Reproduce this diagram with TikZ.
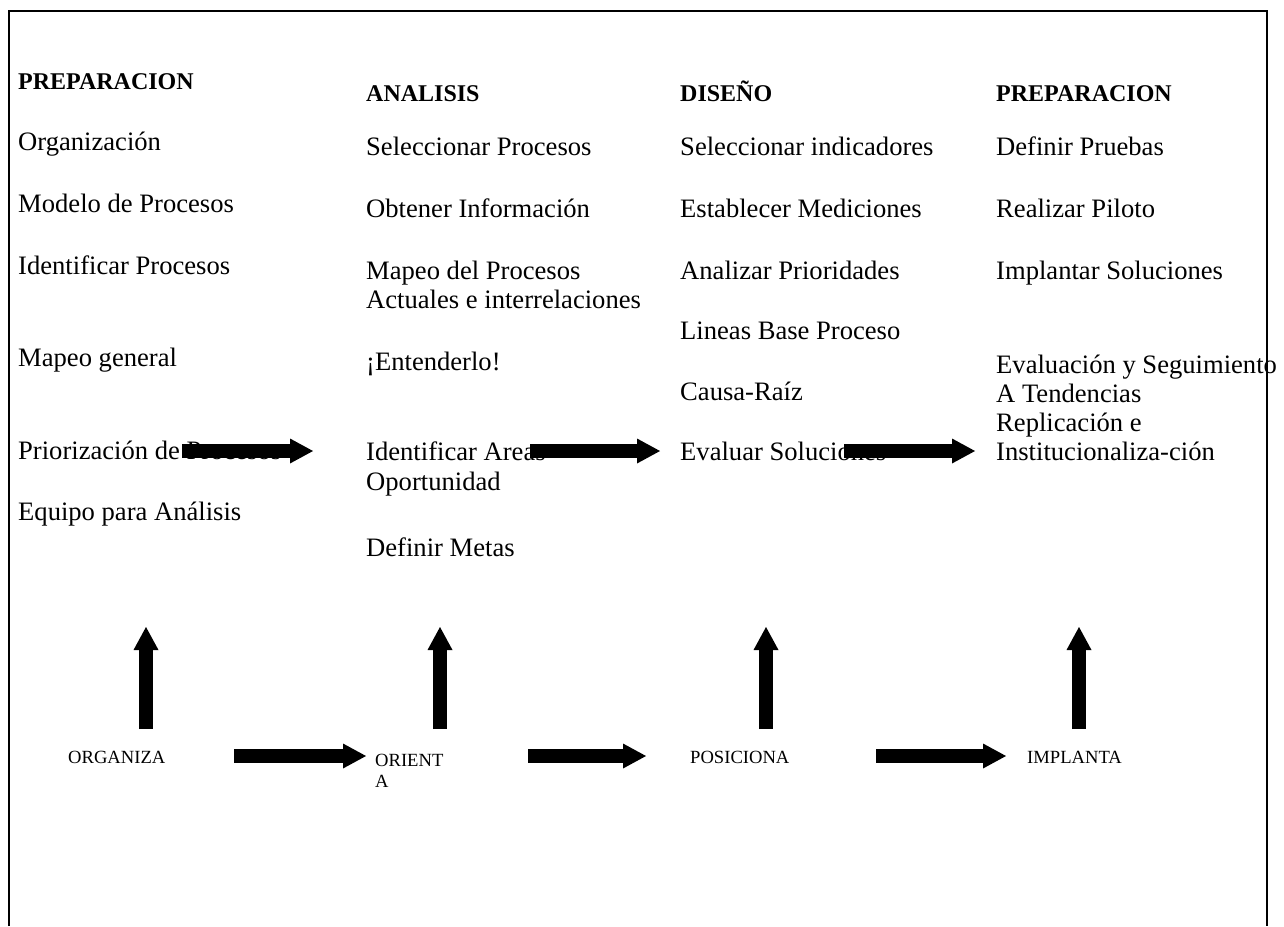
\documentclass[tikz,border=0pt]{standalone}
\usepackage{fontspec}
\setmainfont{Liberation Serif}
\usetikzlibrary{arrows.meta}
\begin{document}
\begin{tikzpicture}[x=1pt,y=-1pt,
  item/.style={anchor=base west,inner sep=0pt,font=\fontsize{26.6}{30}\selectfont},
  head/.style={anchor=base west,inner sep=0pt,font=\fontsize{24}{28}\selectfont\bfseries},
  phase/.style={anchor=base west,inner sep=0pt,font=\fontsize{18.6}{22}\selectfont},
  bigarrow/.style={line width=14pt,-{Triangle[length=23pt,width=25pt,line width=0pt]}},
  frame/.style={line width=2.6pt}]
\useasboundingbox (0,0) rectangle (1284,926);
% open frame
\draw[frame] (9,926) -- (9,11) -- (1267,11) -- (1267,926);

% column 1
\node[head] (p1) at (18,89) {PREPARACION};
\node[item] (p1a) at (18,150) {Organización};
\node[item] (p1b) at (18,212) {Modelo de Procesos};
\node[item] (p1c) at (18,274) {Identificar Procesos};
\node[item] (p1d) at (18,366) {Mapeo general};
\node[item] (p1e) at (18,459) {Priorización de Procesos};
\node[item] (p1f) at (18,520) {Equipo para Análisis};

% column 2
\node[head] (an) at (366,101) {ANALISIS};
\node[item] (ana) at (366,155) {Seleccionar Procesos};
\node[item] (anb) at (366,217) {Obtener Información};
\node[item] (anc) at (366,279) {Mapeo del Procesos};
\node[item] (anc2) at (366,308) {Actuales e interrelaciones};
\node[item] (and) at (366,370) {¡Entenderlo!};
\node[item] (ane) at (366,460) {Identificar Areas};
\node[item] (ane2) at (366,490) {Oportunidad};
\node[item] (anf) at (366,556) {Definir Metas};

% column 3
\node[head] (di) at (680,101) {DISEÑO};
\node[item] (dia) at (680,155) {Seleccionar indicadores};
\node[item] (dib) at (680,217) {Establecer Mediciones};
\node[item] (dic) at (680,279) {Analizar Prioridades};
\node[item] (did) at (680,339) {Lineas Base Proceso};
\node[item] (die) at (680,400) {Causa-Raíz};
\node[item] (dif) at (680,460) {Evaluar Soluciones};

% column 4
\node[head] (p4) at (996,101) {PREPARACION};
\node[item] (p4a) at (996,155) {Definir Pruebas};
\node[item] (p4b) at (996,217) {Realizar Piloto};
\node[item] (p4c) at (996,279) {Implantar Soluciones};
\node[item] (p4d) at (996,373) {Evaluación y Seguimiento};
\node[item] (p4d2) at (996,402) {A Tendencias};
\node[item] (p4e) at (996,431) {Replicación e};
\node[item] (p4e2) at (996,460) {Institucionaliza-ción};

% phase labels
\node[phase] (org) at (68,763) {ORGANIZA};
\node[phase] (ori) at (375,766) {ORIENT};
\node[phase] (ori2) at (375,787) {A};
\node[phase] (pos) at (690,763) {POSICIONA};
\node[phase] (imp) at (1027,763) {IMPLANTA};

% arrow end points
\coordinate (u1s) at (182,451); \coordinate (u1e) at (313,451);
\coordinate (u2s) at (530,451); \coordinate (u2e) at (660,451);
\coordinate (u3s) at (844,451); \coordinate (u3e) at (975,451);
\coordinate (l1s) at (234,756); \coordinate (l1e) at (366,756);
\coordinate (l2s) at (528,756); \coordinate (l2e) at (646,756);
\coordinate (l3s) at (876,756); \coordinate (l3e) at (1006,756);
\coordinate (v1s) at (146,729); \coordinate (v1e) at (146,627);
\coordinate (v2s) at (440,729); \coordinate (v2e) at (440,627);
\coordinate (v3s) at (766,729); \coordinate (v3e) at (766,627);
\coordinate (v4s) at (1079,729); \coordinate (v4e) at (1079,627);

% block arrows
\draw[bigarrow] (u1s) -- (u1e);
\draw[bigarrow] (u2s) -- (u2e);
\draw[bigarrow] (u3s) -- (u3e);
\draw[bigarrow] (l1s) -- (l1e);
\draw[bigarrow] (l2s) -- (l2e);
\draw[bigarrow] (l3s) -- (l3e);
\draw[bigarrow] (v1s) -- (v1e);
\draw[bigarrow] (v2s) -- (v2e);
\draw[bigarrow] (v3s) -- (v3e);
\draw[bigarrow] (v4s) -- (v4e);
\end{tikzpicture}
\end{document}
